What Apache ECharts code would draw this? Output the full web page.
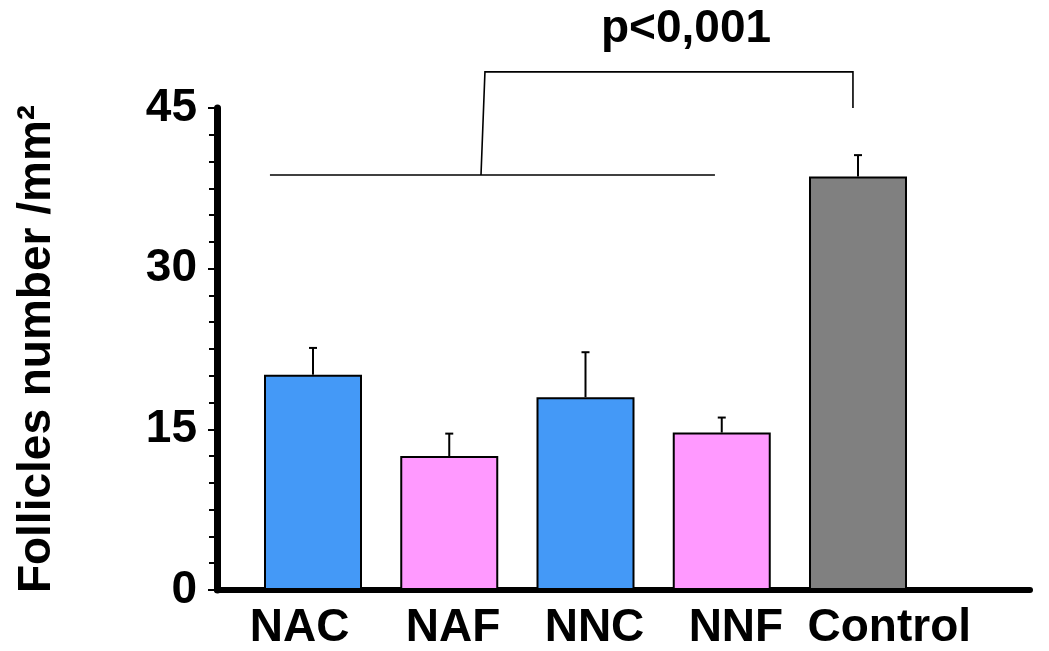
<!DOCTYPE html>
<html><head><meta charset="utf-8">
<script src="https://cdn.jsdelivr.net/npm/echarts@6/dist/echarts.min.js"></script>
<style>html,body{margin:0;padding:0;background:#fff}#c{width:1049px;height:651px}</style>
</head><body><div id="c"></div>
<script>
// ---- data ----
const categories = ['NAC', 'NAF', 'NNC', 'NNF', 'Control'];
const means      = [20.1, 12.5, 18.0, 14.7, 38.6];
const errTops    = [22.6, 14.6, 22.2, 16.1, 40.6];
const barColors  = ['#4499f7', '#ff99ff', '#4499f7', '#ff99ff', '#808080'];
const yMin = 0, yMax = 45, yStep = 15;
const yTitle = 'Follicles number /mm²';
const pLabel = 'p<0,001';
// significance bracket, in data units (x = bar index, y = axis value)
const bracketGroupLine = [[-0.316, 38.75], [2.95, 38.75]];
const bracketArm       = [[1.233, 38.75], [1.262, 48.37], [3.963, 48.37], [3.963, 45.0]];
const pLabelAt         = [2.738, 52.3];

const FONT = '"Liberation Sans", Arial, Helvetica, sans-serif';
const chart = echarts.init(document.getElementById('c'), null, {renderer: 'canvas'});

const barData = means.map((v, i) => ({
  value: [i, v],
  itemStyle: {color: barColors[i]}
}));
const errData = means.map((v, i) => [i, v, errTops[i]]);

const labelStyle = {color: '#000', fontFamily: FONT, fontWeight: 'bold', fontSize: 46};

const option = {
  backgroundColor: '#fff',
  animation: false,
  grid: [
    {left: 217, right: 19, top: 108, bottom: 61},
    {left: 226, right: 86, top: 108, bottom: 61}
  ],
  xAxis: [
    {
      type: 'value', gridIndex: 0, min: -0.7046, max: 5.2624,
      axisLine: {show: true, onZero: false, lineStyle: {color: '#000', width: 6}},
      axisTick: {show: false}, axisLabel: {show: false}, splitLine: {show: false}
    },
    {
      type: 'category', gridIndex: 1, data: categories,
      axisLine: {show: false}, axisTick: {show: false}, splitLine: {show: false},
      axisLabel: {
        interval: 0, margin: 16, color: '#000',
        fontFamily: FONT, fontWeight: 'bold', fontSize: 46,
        formatter: function (v, i) {
          if (i === 1) return '{r|' + v + '}';
          if (i === 3) return '{l|' + v + '}';
          return '{n|' + v + '}';
        },
        rich: {
          n: labelStyle,
          r: Object.assign({padding: [0, 0, 0, 12]}, labelStyle),
          l: Object.assign({padding: [0, 12, 0, 0]}, labelStyle)
        }
      }
    }
  ],
  yAxis: [
    {
      type: 'value', gridIndex: 0, min: yMin, max: yMax, interval: yStep,
      name: yTitle, nameLocation: 'middle', nameGap: 157,
      nameTextStyle: {color: '#000', fontFamily: FONT, fontWeight: 'bold', fontSize: 46},
      axisLine: {show: true, onZero: false, lineStyle: {color: '#000', width: 7}},
      axisTick: {show: true, length: 9, lineStyle: {color: '#000', width: 2}},
      minorTick: {show: true, splitNumber: 6, length: 8, lineStyle: {color: '#000', width: 2}},
      axisLabel: {margin: 20, color: '#000', fontFamily: FONT, fontWeight: 'bold', fontSize: 46},
      splitLine: {show: false}
    },
    {
      type: 'value', gridIndex: 1, min: yMin, max: yMax, show: false
    }
  ],
  series: [
    {
      type: 'bar', xAxisIndex: 0, yAxisIndex: 0,
      barWidth: 98, data: barData,
      itemStyle: {borderColor: '#000', borderWidth: 2}
    },
    {
      type: 'custom', xAxisIndex: 0, yAxisIndex: 0, clip: false,
      data: errData,
      renderItem: function (params, api) {
        const x = api.value(0);
        const p0 = api.coord([x, api.value(1)]);
        const p1 = api.coord([x, api.value(2)]);
        const cap = 4;
        return {
          type: 'group',
          children: [
            {type: 'line', shape: {x1: p0[0], y1: p0[1], x2: p1[0], y2: p1[1]},
             style: {stroke: '#000', lineWidth: 2}},
            {type: 'line', shape: {x1: p1[0] - cap, y1: p1[1], x2: p1[0] + cap, y2: p1[1]},
             style: {stroke: '#000', lineWidth: 2}}
          ]
        };
      }
    },
    {
      type: 'custom', xAxisIndex: 0, yAxisIndex: 0, clip: false,
      data: [[0, 0]],
      renderItem: function (params, api) {
        const g = bracketGroupLine.map(p => api.coord(p));
        const a = bracketArm.map(p => api.coord(p));
        const t = api.coord(pLabelAt);
        return {
          type: 'group',
          children: [
            {type: 'polyline', shape: {points: g}, style: {stroke: '#000', lineWidth: 1.6, fill: null}},
            {type: 'polyline', shape: {points: a}, style: {stroke: '#000', lineWidth: 1.6, fill: null}},
            {type: 'text', x: t[0], y: t[1],
             style: {text: pLabel, fill: '#000', font: 'bold 46px ' + FONT,
                     align: 'center', verticalAlign: 'middle'}}
          ]
        };
      }
    }
  ]
};
chart.setOption(option);
</script>
</body></html>
